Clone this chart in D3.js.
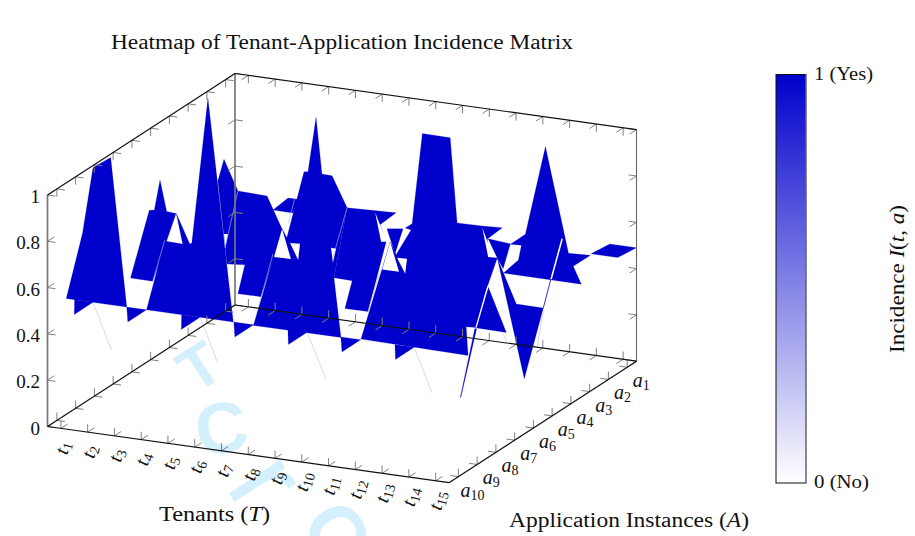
<!DOCTYPE html>
<html>
<head>
<meta charset="utf-8">
<script src="https://cdn.jsdelivr.net/npm/d3@7"></script>
<style>
  html, body { margin: 0; padding: 0; background: #fff; }
  text { font-family: "Liberation Serif", serif; fill: #111; }
</style>
</head>
<body>
<svg id="chart" width="915" height="536"></svg>
<script>
var tenants = ["1","2","3","4","5","6","7","8","9","10","11","12","13","14","15"];
var apps = ["1","2","3","4","5","6","7","8","9","10"];
var zTicks = [0, 0.2, 0.4, 0.6, 0.8, 1];
var zTickLabels = ["0", "0.2", "0.4", "0.6", "0.8", "1"];

// surface pieces, each vertex is [t, a, z]
var surfaceOn = [
  [[0.5,9.5,0.5],[1.11,9.5,0.793],[1.5,9.5,1.083],[1.46,8.5,1.073],[2.76,9.5,0.5],[0.81,9.5,0.5]],
  [[0.81,9.5,0.5],[1.5,10.5,0.5],[1.5,9.5,0.5]],
  [[2.76,9.5,0.5],[3.5,10.5,0.5],[3.5,9.5,0.5]],
  [[1.5,7.5,0.5],[1.5,6.5,0.74],[1.69,6.5,0.744],[0.5,4.5,0.75],[2.15,6.5,0.746],[2.5,6.5,0.742],[2.33,7.5,0.5]],
  [[3.5,9.5,0.5],[4.18,9.5,0.808],[4.85,9.5,0.806],[4.61,9.5,0.935],[5.11,9.5,0.812],[5.19,9.5,0.815],[1.59,3.5,1.069],[6.74,9.5,0.5]],
  [[4.81,9.5,0.5],[5.5,10.5,0.5],[5.5,9.5,0.5]],
  [[6.76,9.5,0.5],[7.5,10.5,0.5],[7.5,9.5,0.5]],
  [[1.26,2.5,0.653],[1.49,2.5,0.751],[2.01,2.5,0.622],[3.1,2.5,0.618],[3.66,2.5,0.484],[3.36,2.5,0.359],[2.87,2.5,0.179],[2.01,2.5,0.178],[2.27,2.5,0.307],[1.6,2.5,0.3]],
  [[3.32,2.5,0.561],[3.88,2.5,0.622],[4.26,2.5,0.623],[4.07,2.5,0.56]],
  [[4.69,5.5,0.242],[5.76,5.5,0.677],[5.94,5.5,0.641],[6.58,5.5,0.936],[6.73,5.5,0.939],[5.63,3.5,1.052],[7.25,5.5,0.938],[7.63,5.5,0.936],[8.19,5.5,0.807],[7.7,5.5,0.497],[7.96,5.5,0.243]],
  [[8.78,9.5,0.5],[9.5,10.5,0.5],[9.5,9.5,0.5]],
  [[10.76,9.5,0.5],[11.5,10.5,0.5],[11.5,9.5,0.5]],
  [[8.19,5.5,0.807],[10.02,5.5,0.815],[9.42,5.5,0.753],[9.65,5.5,0.684],[8.97,5.5,0.371],[8.11,5.5,0.37],[8.38,5.5,0.495],[7.7,5.5,0.497]],
  [[9.68,5.5,0.74],[10.28,5.5,0.75],[9.98,5.5,0.637]],
  [[8.71,5.5,0.248],[9.8,5.5,0.686],[10.02,5.5,0.634],[10.58,5.5,0.75],[10.36,5.5,0.755],[10.62,5.5,0.777],[7.5,0.5,0.854],[8.54,0.5,0.853],[12.3,5.5,0.808],[13.24,5.5,0.81],[13.99,5.5,0.814],[13.43,5.5,0.757],[13.46,5.5,0.68],[13.8,5.5,0.681],[13.43,5.5,0.55],[13,5.5,0.367],[12.64,5.5,0.365],[12.71,5.5,0.242]],
  [[12.78,9.5,0.5],[13.5,10.5,0.5],[13.5,9.5,0.5]],
  [[13.46,5.5,0.551],[14.14,5.5,0.364],[12.98,5.5,0.366]],
  [[12.96,5.5,0.362],[13.03,5.5,0.363],[12.44,5.5,0.056],[12.42,5.5,0.056]],
  [[13.46,5.5,0.758],[14.29,5.5,0.75],[14.02,5.5,0.638],[13.8,5.5,0.681]],
  [[11.7,2.5,0.489],[12.41,2.5,0.302],[13.42,2.5,0.301],[13.41,3.5,0.048]],
  [[12.19,2.5,0.557],[12.75,2.5,0.609],[13.5,2.5,1],[14.36,2.5,0.553],[15.18,2.5,0.557],[14.54,2.5,0.5],[14.84,2.5,0.427],[11.93,2.5,0.428],[12.49,2.5,0.493],[12.6,2.5,0.559]],
  [[14.5,1.5,0.5],[14.5,0.5,0.49],[15.5,0.5,0.49],[15.5,1.5,0.5]]
];

var surfaceOff = [
  [[1.49,2.5,0.428],[1.64,2.5,0.43],[1.53,2.5,0.368]],
  [[3.66,2.5,0.484],[3.36,2.5,0.359],[3.99,2.5,0.36]],
  [[3.96,2.5,0.429],[4.33,2.5,0.431],[4.26,2.5,0.36]],
  [[7.59,5.5,0.625],[7.78,5.5,0.623],[7.66,5.5,0.561]],
  [[9.24,5.5,0.802],[9.68,5.5,0.684],[9.46,5.5,0.681]],
  [[9.8,5.5,0.686],[9.5,5.5,0.561],[10.13,5.5,0.562]],
  [[10.06,5.5,0.621],[10.43,5.5,0.623],[10.36,5.5,0.557]],
  [[13.24,5.5,0.802],[13.65,5.5,0.683],[13.46,5.5,0.68]],
  [[13.43,5.5,0.555],[12.98,5.5,0.366],[13.03,5.5,0.367],[13.48,5.5,0.554]],
  [[14.1,2.5,0.613],[13.68,2.5,0.43],[13.74,2.5,0.431],[14.15,2.5,0.61]]
];

var faintEdges = [
  [[1.5,9.5,0.5],[2.19,9.5,0.306]],
  [[5.5,9.5,0.5],[6.16,9.5,0.314]],
  [[9.5,9.5,0.5],[10.2,9.5,0.31]],
  [[13.5,9.5,0.5],[14.17,9.5,0.313]],
  [[14.02,5.5,0.357],[14.17,5.5,0.317]],
  [[2.01,2.5,0.622],[1.53,2.5,0.368]],
  [[3.32,2.5,0.371],[2.76,2.5,0.129]],
  [[8.19,5.5,0.807],[7.66,5.5,0.583]],
  [[9.42,5.5,0.555],[8.97,5.5,0.371]],
  [[4.14,2.5,0.626],[3.88,2.5,0.51]],
  [[4.18,9.5,0.812],[3.73,9.5,0.628]],
  [[13.42,2.5,0.288],[13.2,2.5,0.133]]
];

var strongEdges = [
  [[13.7,2.5,0.43],[13.42,2.5,0.301]]
];

var colorStops = [
  { at: "0%", color: "#0000cc" },
  { at: "100%", color: "#ffffff" }
];

// watermark glyphs behind the plot
var watermark = [
  { ch: "T", x: 199, y: 366, size: 62, rot: -33, weight: "bold" },
  { ch: "C", x: 221, y: 427, size: 72, rot: -10, weight: "bold" },
  { ch: "r", x: 270, y: 480, size: 115, rot: 57, weight: "normal" },
  { ch: "C", x: 338, y: 532, size: 78, rot: 57, weight: "bold" }
];

var chart = d3.select("#chart");

// orthographic box: every axis adds its own x and y shift
var originX = 47.5, originY = 426.5;
var tX = d3.scaleLinear().domain([0.5, 15.5]).range([0, 401.5]);
var tY = d3.scaleLinear().domain([0.5, 15.5]).range([0, 56.2]);
var aX = d3.scaleLinear().domain([10.5, 0.5]).range([0, 187.5]);
var aY = d3.scaleLinear().domain([10.5, 0.5]).range([0, -121.5]);
var zY = d3.scaleLinear().domain([0, 1]).range([0, -231.5]);

function project(p) {
  return [originX + tX(p[0]) + aX(p[1]), originY + tY(p[0]) + aY(p[1]) + zY(p[2])];
}

var polyLine = d3.line();
function patchPath(d) {
  return polyLine(d.map(project)) + "Z";
}

chart
  .selectAll("text.wm")
  .data(watermark)
  .enter()
  .append("text")
  .attr("class", "wm")
  .text(function (d) { return d.ch; })
  .attr("text-anchor", "middle")
  .attr("dy", "0.36em")
  .attr("font-size", function (d) { return d.size; })
  .attr("font-weight", function (d) { return d.weight; })
  .style("font-family", "'Liberation Sans', sans-serif")
  .style("fill", "#d4f0fd")
  .attr("transform", function (d) { return "translate(" + d.x + "," + d.y + ") rotate(" + d.rot + ")"; });

var blue = "#0000cc";

chart
  .selectAll("path.on")
  .data(surfaceOn)
  .enter()
  .append("path")
  .attr("class", "on")
  .attr("d", patchPath)
  .attr("fill", blue)
  .attr("stroke", blue)
  .attr("stroke-width", 0.2);

chart
  .selectAll("path.off")
  .data(surfaceOff)
  .enter()
  .append("path")
  .attr("class", "off")
  .attr("d", patchPath)
  .attr("fill", "#fff");

chart
  .selectAll("path.faint")
  .data(faintEdges)
  .enter()
  .append("path")
  .attr("class", "faint")
  .attr("d", function (d) { return polyLine(d.map(project)); })
  .attr("stroke", "#bcbcf4")
  .attr("stroke-width", 0.6)
  .attr("fill", "none");

chart
  .selectAll("path.strong")
  .data(strongEdges)
  .enter()
  .append("path")
  .attr("class", "strong")
  .attr("d", function (d) { return polyLine(d.map(project)); })
  .attr("stroke", blue)
  .attr("stroke-width", 0.8)
  .attr("fill", "none");

// box lines
function line3d(a, b, color, w) {
  var p = project(a), q = project(b);
  chart
    .append("line")
    .attr("x1", p[0]).attr("y1", p[1])
    .attr("x2", q[0]).attr("y2", q[1])
    .attr("stroke", color)
    .attr("stroke-width", w);
}

// short tick strokes, one stroke per direction
var tickT = 0.3, tickA = 0.36, tickZ = 0.034;
function tick3d(p, dirs) {
  dirs.forEach(function (d) {
    line3d(p, [p[0] + d[0] * tickT, p[1] + d[1] * tickA, p[2] + d[2] * tickZ], "#808080", 1);
  });
}

tenants.forEach(function (d) {
  var t = +d;
  tick3d([t, 10.5, 0], [[0, -1, 0], [0, 0, 1]]);
  tick3d([t, 0.5, 0], [[0, 1, 0], [0, 0, 1]]);
  tick3d([t, 0.5, 1], [[0, 1, 0], [0, 0, -1]]);
});

apps.forEach(function (d) {
  var a = +d;
  tick3d([15.5, a, 0], [[-1, 0, 0], [0, 0, 1]]);
  tick3d([0.5, a, 0], [[1, 0, 0], [0, 0, 1]]);
  tick3d([0.5, a, 1], [[1, 0, 0], [0, 0, -1]]);
});

zTicks.forEach(function (z) {
  tick3d([0.5, 10.5, z], [[1, 0, 0], [0, -1, 0]]);
  tick3d([0.5, 0.5, z], [[1, 0, 0], [0, 1, 0]]);
  tick3d([15.5, 0.5, z], [[-1, 0, 0], [0, 1, 0]]);
});

line3d([0.5, 10.5, 0], [0.5, 10.5, 1], "#777", 1.7);
line3d([0.5, 0.5, 0], [0.5, 0.5, 1], "#777", 1.7);
line3d([15.5, 0.5, 0], [15.5, 0.5, 1], "#666", 1.1);
line3d([0.5, 10.5, 0], [15.5, 10.5, 0], "#111", 1.2);
line3d([15.5, 10.5, 0], [15.5, 0.5, 0], "#111", 1.2);
line3d([0.5, 10.5, 0], [0.5, 0.5, 0], "#111", 1.2);
line3d([0.5, 0.5, 0], [15.5, 0.5, 0], "#111", 1.2);
line3d([0.5, 10.5, 1], [0.5, 0.5, 1], "#111", 1.2);
line3d([0.5, 0.5, 1], [15.5, 0.5, 1], "#111", 1.2);

// tick labels
chart
  .selectAll("text.zlabel")
  .data(zTicks)
  .enter()
  .append("text")
  .attr("class", "zlabel")
  .text(function (d, i) { return zTickLabels[i]; })
  .attr("text-anchor", "end")
  .attr("font-size", 19)
  .attr("x", 40)
  .attr("y", function (d) { return project([0.5, 10.5, d])[1] + 8; });

function subLabel(sel, letter) {
  sel.append("tspan").text(letter).attr("font-style", "italic");
  sel
    .append("tspan")
    .text(function (d) { return d; })
    .attr("font-size", 14)
    .attr("dy", 3);
}

var tLabels = chart
  .selectAll("text.tlabel")
  .data(tenants)
  .enter()
  .append("text")
  .attr("class", "tlabel")
  .attr("text-anchor", "middle")
  .attr("font-size", 20)
  .attr("transform", function (d) {
    var p = project([+d, 10.5, 0]);
    return "translate(" + (p[0] + 8) + "," + (p[1] + 21) + ") rotate(-75)";
  });
subLabel(tLabels, "t");

var aLabels = chart
  .selectAll("text.alabel")
  .data(apps)
  .enter()
  .append("text")
  .attr("class", "alabel")
  .attr("text-anchor", "middle")
  .attr("font-size", 20)
  .attr("transform", function (d) {
    var p = project([15.5, +d, 0]);
    return "translate(" + (p[0] + 14) + "," + (p[1] + 20) + ")";
  });
subLabel(aLabels, "a");

// titles, stretched a little since the serif here runs narrower than the original
chart
  .append("text")
  .text("Heatmap of Tenant-Application Incidence Matrix")
  .attr("x", 111)
  .attr("y", 49)
  .attr("font-size", 20)
  .attr("textLength", 462)
  .attr("lengthAdjust", "spacingAndGlyphs");

var tenantTitle = chart
  .append("text")
  .attr("x", 159)
  .attr("y", 521)
  .attr("font-size", 20)
  .attr("textLength", 111)
  .attr("lengthAdjust", "spacingAndGlyphs");
tenantTitle.append("tspan").text("Tenants (");
tenantTitle.append("tspan").text("T").attr("font-style", "italic");
tenantTitle.append("tspan").text(")");

var appTitle = chart
  .append("text")
  .attr("x", 509)
  .attr("y", 527)
  .attr("font-size", 20)
  .attr("textLength", 240)
  .attr("lengthAdjust", "spacingAndGlyphs");
appTitle.append("tspan").text("Application Instances (");
appTitle.append("tspan").text("A").attr("font-style", "italic");
appTitle.append("tspan").text(")");

// colour bar
var grad = chart
  .append("defs")
  .append("linearGradient")
  .attr("id", "barFill")
  .attr("x1", 0).attr("y1", 0)
  .attr("x2", 0).attr("y2", 1);
grad
  .selectAll("stop")
  .data(colorStops)
  .enter()
  .append("stop")
  .attr("offset", function (d) { return d.at; })
  .attr("stop-color", function (d) { return d.color; });

var barY = d3.scaleLinear().domain([0, 1]).range([483, 74.5]);
var barX0 = 776, barX1 = 806;

chart
  .append("rect")
  .attr("x", barX0)
  .attr("y", barY(1))
  .attr("width", barX1 - barX0)
  .attr("height", barY(0) - barY(1))
  .attr("fill", "url(#barFill)")
  .attr("stroke", "#111")
  .attr("stroke-width", 1);

chart
  .append("line")
  .attr("x1", barX1).attr("y1", barY(1))
  .attr("x2", barX1).attr("y2", barY(0))
  .attr("stroke", "#8c8c8c")
  .attr("stroke-width", 1);

chart
  .selectAll("text.barlabel")
  .data([[1, "1 (Yes)", 59], [0, "0 (No)", 55]])
  .enter()
  .append("text")
  .attr("class", "barlabel")
  .text(function (d) { return d[1]; })
  .attr("x", 814)
  .attr("y", function (d) { return barY(d[0]) + 5; })
  .attr("font-size", 19)
  .attr("textLength", function (d) { return d[2]; })
  .attr("lengthAdjust", "spacingAndGlyphs");

var barTitle = chart
  .append("text")
  .attr("text-anchor", "middle")
  .attr("font-size", 20)
  .attr("textLength", 148)
  .attr("lengthAdjust", "spacingAndGlyphs")
  .attr("transform", "translate(904,279) rotate(-90)");
barTitle.append("tspan").text("Incidence ");
barTitle.append("tspan").text("I").attr("font-style", "italic");
barTitle.append("tspan").text("(");
barTitle.append("tspan").text("t").attr("font-style", "italic");
barTitle.append("tspan").text(", ");
barTitle.append("tspan").text("a").attr("font-style", "italic");
barTitle.append("tspan").text(")");
</script>
</body>
</html>
